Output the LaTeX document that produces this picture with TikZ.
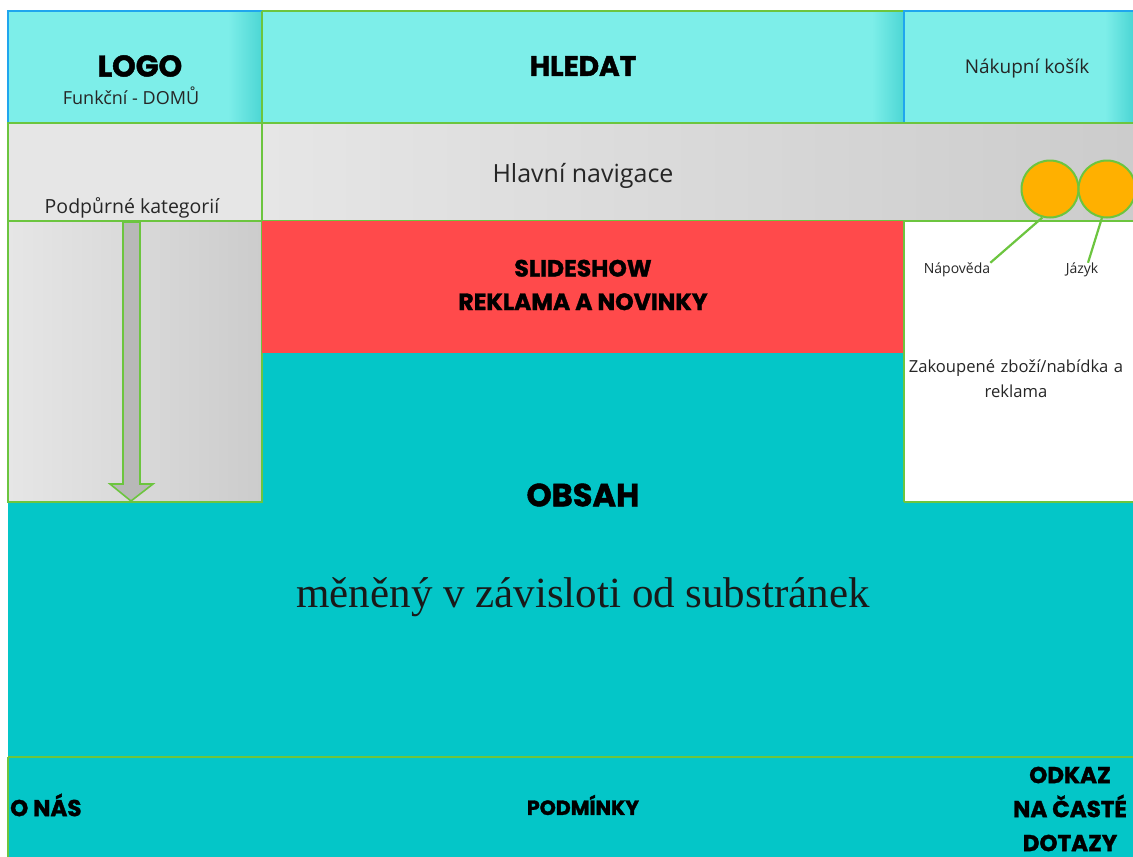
\documentclass[tikz,border=0pt]{standalone}
\usepackage{fontspec}
\setmainfont{Open Sans}
\newfontfamily\headfont{Poppins}[FakeBold=1.5]
\newfontfamily\serifbody{Liberation Serif}
\usetikzlibrary{shapes.geometric}

\definecolor{cyanL}{HTML}{7DEEE9}
\definecolor{cyanD}{HTML}{4CD6D4}
\definecolor{greyL}{HTML}{E6E6E6}
\definecolor{greyD}{HTML}{CCCCCC}
\definecolor{slideRed}{HTML}{FF4A4B}
\definecolor{teal}{HTML}{04C6C8}
\definecolor{edge}{HTML}{6CC53F}
\definecolor{blueEdge}{HTML}{1FA6EE}
\definecolor{orangeDot}{HTML}{FFB000}
\definecolor{shaft}{HTML}{B8B8B8}

\tikzset{
  heading/.style={font=\headfont\bfseries\fontsize{#1}{#1}\selectfont, text=black, inner sep=0pt, align=center},
  heading/.default=20,
  label/.style={font=\fontsize{#1}{#1}\selectfont, text=black!85, inner sep=0pt, align=center},
  label/.default=18,
  area/.style={draw=edge, line width=2pt},
  dot/.style={circle, fill=orangeDot, draw=edge, line width=2pt, minimum size=57pt, inner sep=0pt},
  pointer/.style={draw=edge, line width=2.2pt}
}

\begin{document}
\begin{tikzpicture}[x=1pt,y=-1pt]
\useasboundingbox (0,0) rectangle (1133,857);
\fill[white] (0,0) rectangle (1133,857);

% content background (fills everything below the header rows)
\fill[teal] (8,221) rectangle (1133,857);

% header row
\fill[cyanL] (8,11) rectangle (262,123);
\shade[left color=cyanL, right color=cyanD] (228,11) rectangle (262,123);
\fill[cyanL] (262,11) rectangle (904,123);
\shade[left color=cyanL, right color=cyanD] (872,11) rectangle (904,123);
\fill[cyanL] (904,11) rectangle (1133,123);
\shade[left color=cyanL, right color=cyanD] (1105,11) rectangle (1133,123);
\draw[area] (262,11) rectangle (904,123);
\draw[blueEdge, line width=2pt] (262,11) -- (8,11) -- (8,123) -- (262,123);
\draw[blueEdge, line width=2pt] (1133,11) -- (904,11) -- (904,123) -- (1133,123);
\draw[area] (262,11) -- (262,123);

% navigation row
\fill[greyL] (8,123) rectangle (262,221);
\shade[left color=greyL, right color=greyD] (262,123) rectangle (1133,221);
\draw[area] (8,123) rectangle (262,221);
\draw[area] (262,123) -- (1133,123);
\draw[area] (262,221) -- (1133,221);

% category sidebar
\shade[left color=greyL, right color=greyD] (8,221) rectangle (262,502);
\draw[area] (8,221) rectangle (262,502);

% slideshow
\fill[slideRed] (262,221) rectangle (904,353);

% purchased goods panel
\fill[white] (904,221) rectangle (1133,502);
\draw[area] (904,502) -- (904,221) -- (1133,221);
\draw[area] (904,502) -- (1133,502);

% footer
\draw[area] (8,757) -- (1133,757);
\draw[area] (8,757) -- (8,857);

% scroll arrow in the sidebar
\filldraw[fill=shaft, draw=edge, line width=1.6pt]
  (123,222) -- (140,222) -- (140,484) -- (153,484) -- (131,501) -- (110,484) -- (123,484) -- cycle;

% texts
\node[heading=30] (logo) at (140,66) {LOGO};
\node[label=18] (home) at (131,96) {Funkční - DOMŮ};
\node[heading=28] (search) at (583,66) {HLEDAT};
\node[label=19] (cart) at (1027,69) {Nákupní košík};
\node[label=25] (nav) at (583,176) {Hlavní navigace};
\node[label=19.5] (cats) at (132,208) {Podpůrné kategorií};
\node[heading=23.5] (slide) at (583,285) {SLIDESHOW\\[10pt]REKLAMA A NOVINKY};
\node[label=16.6, text width=225pt, font=\fontsize{16.6}{25}\selectfont] (goods) at (1016,379) {Zakoupené zboží/nabídka a\\reklama};
\node[heading=32] (content) at (583,495) {OBSAH};
\node[font=\serifbody\fontsize{43}{43}\selectfont, text=black!90, inner sep=0pt] (contentsub) at (583,597) {měněný v závisloti od substránek};
\node[heading=23, anchor=west] (about) at (10,805) {O NÁS};
\node[heading=20.5] (terms) at (583,805) {PODMÍNKY};
\node[heading=23] (faq) at (1070,809) {ODKAZ\\[11pt]NA ČASTÉ\\[11pt]DOTAZY};

% help and language buttons
\node[dot] (help) at (1050,189) {};
\node[dot] (lang) at (1107,189) {};
\node[label=14] (helplbl) at (957,270) {Nápověda};
\node[label=14] (langlbl) at (1082,270) {Jázyk};
\draw[pointer] (help.-105) -- (helplbl.north east);
\draw[pointer] (lang.-100) -- ([xshift=6pt]langlbl.north);
\end{tikzpicture}
\end{document}
